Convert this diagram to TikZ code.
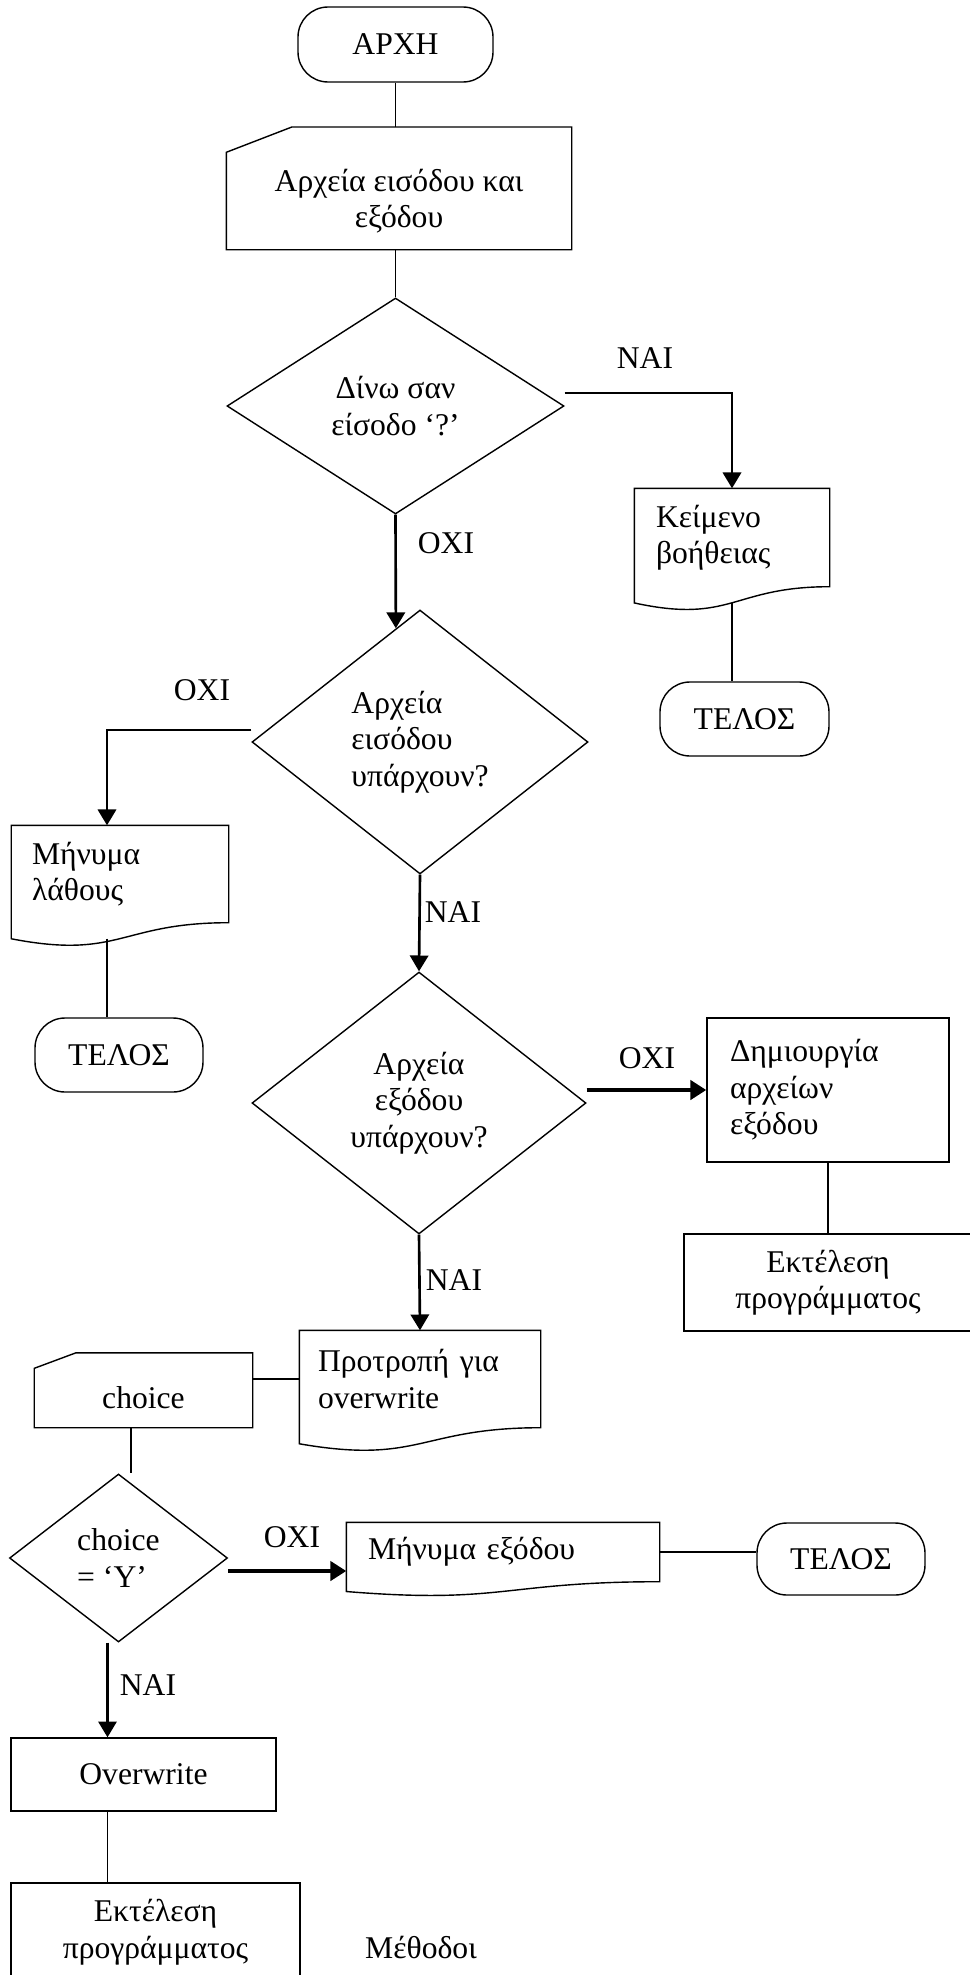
\documentclass[tikz,border=0pt]{standalone}
\usepackage{fontspec}
\setmainfont{Liberation Serif}
\usepackage{tikz}
\usetikzlibrary{shapes.geometric,arrows.meta,calc}

\begin{document}
\begin{tikzpicture}[x=1mm,y=1mm,line width=0.4pt,font=\fontsize{9}{10.4}\selectfont,
  term/.style={draw,rectangle,rounded corners=0.3cm,minimum height=0.74cm},
  proc/.style={draw,rectangle},
  cond/.style={draw,diamond,align=center},
  doc/.style={rectangle,align=left,minimum height=0.96cm},
  minput/.style={rectangle,align=center},
  yesno/.style={anchor=base},
  arr/.style={-{Triangle[length=4.5pt,width=5.2pt]},line width=0.75pt},
  bigarr/.style={-{Triangle[length=4.5pt,width=5.4pt]},line width=1.3pt}]
\tikzstyle{every node}+=[inner sep=0pt]
\useasboundingbox (0,0) rectangle (96.9,-197.5);
\node[term,minimum width=1.95cm,minimum height=0.75cm] (start) at (39.55,-4.45) {ΑΡΧΗ};
\node[minput,minimum width=3.44cm,minimum height=0.96cm] (input) at (39.9,-20.1) {Αρχεία εισόδου και\\εξόδου};
\node[cond,aspect=1.56,minimum width=3.37cm,minimum height=2.16cm] (ask) at (39.55,-40.6) {Δίνω σαν\\είσοδο ‘?’};
\node[doc,minimum width=1.94cm,minimum height=0.97cm,text width=1.52cm] (help) at (73.2,-53.75) {Κείμενο\\βοήθειας};
\node[term,minimum width=1.69cm] (end1) at (74.45,-71.9) {ΤΕΛΟΣ};
\node[cond,aspect=1.27,minimum width=3.36cm,minimum height=2.64cm,align=left] (inexist) at (42.0,-74.2) {Αρχεία\\εισόδου\\υπάρχουν?};
\node[doc,minimum width=2.16cm,text width=1.76cm] (errmsg) at (12.0,-87.4) {Μήνυμα\\λάθους};
\node[term,minimum width=1.68cm] (end2) at (11.9,-105.5) {ΤΕΛΟΣ};
\node[cond,aspect=1.27,minimum width=3.34cm,minimum height=2.62cm] (outexist) at (41.9,-110.3) {Αρχεία\\εξόδου\\υπάρχουν?};
\node[proc,minimum width=2.42cm,minimum height=1.44cm,text width=1.96cm,align=left] (mkout) at (82.8,-109.0) {Δημιουργία\\αρχείων\\εξόδου};
\node[proc,minimum width=2.88cm,minimum height=0.97cm,align=center] (run1) at (82.8,-128.25) {Εκτέλεση\\προγράμματος};
\node[doc,minimum width=2.40cm,text width=2.04cm] (prompt) at (42.0,-137.9) {Προτροπή για\\overwrite};
\node[minput,minimum width=2.17cm,minimum height=0.58cm] (choice) at (14.35,-139.8) {choice};
\node[cond,aspect=1.3,minimum width=2.18cm,minimum height=1.68cm,align=left] (check) at (11.85,-155.8) {choice\\= ‘Y’};
\node[doc,minimum width=3.12cm,minimum height=0.58cm,text width=2.70cm] (exitmsg) at (50.3,-155.2) {Μήνυμα εξόδου};
\node[term,minimum width=1.68cm,minimum height=0.72cm] (end3) at (84.1,-155.9) {ΤΕΛΟΣ};
\node[proc,minimum width=2.65cm,minimum height=0.73cm] (ovw) at (14.35,-177.45) {Overwrite};
\node[proc,minimum width=2.89cm,minimum height=0.98cm,align=center] (run2) at (15.55,-193.2) {Εκτέλεση\\προγράμματος};
\node[anchor=base] (methods) at (42.1,-195.8) {Μέθοδοι};
\node[yesno] (yes1) at (64.5,-36.8) {ΝΑΙ};
\node[yesno] (no1) at (44.6,-55.3) {ΟΧΙ};
\node[yesno] (no2) at (20.2,-70.0) {ΟΧΙ};
\node[yesno] (yes2) at (45.3,-92.2) {ΝΑΙ};
\node[yesno] (no3) at (64.7,-106.8) {ΟΧΙ};
\node[yesno] (yes3) at (45.4,-129.0) {ΝΑΙ};
\node[yesno] (no4) at (29.2,-154.7) {ΟΧΙ};
\node[yesno] (yes4) at (14.8,-169.5) {ΝΑΙ};
\foreach \n in {input,choice} {
  \coordinate (\n-t) at ($(\n.north west)!-0.26!(\n.south west)$);
  \coordinate (\n-s) at ($(\n.north west)!0.19!(\n.north east)$);
  \draw (\n.north west) -- (\n-s |- \n-t) -- (\n.north east |- \n-t) -- (\n.south east) -- (\n.south west) -- cycle;
}
\foreach \n in {help,errmsg,prompt,exitmsg} {
  \coordinate (\n-b) at ($(\n.south)!-0.163!(\n.north)$);
  \draw (\n.north west) -- (\n.north east) -- (\n.south east)
    .. controls (\n.south) and ($(\n.south)!-0.381!(\n.north)$) .. ($(\n.south west)!-0.165!(\n.north west)$) -- cycle;
}
\draw (start.south) -- (start.south |- input-t);
\draw (ask.north |- input.south) -- (ask.north);
\draw[arr] ([yshift=1.3mm]ask.east) -| (help.north);
\draw[arr] (ask.south) -- ($(inexist.north)!0.143!(inexist.west)$);
\draw[arr] ([yshift=1.2mm]inexist.west) -| ([xshift=-1.3mm]errmsg.north);
\draw (help-b) -- (help-b |- end1.north);
\draw ([xshift=-1.3mm]errmsg-b) -- ([xshift=-1.3mm]errmsg-b |- end2.north);
\draw[arr] (inexist.south) -- (outexist.north);
\draw[bigarr] (outexist.east |- mkout.west) -- (mkout.west);
\draw (mkout.south) -- (run1.north);
\draw[arr] (outexist.south) -- (prompt.north);
\draw (prompt.west) -- (choice.east |- prompt.west);
\draw ([xshift=-1.25mm]choice.south) -- ([xshift=-1.25mm]choice.south |- check.north);
\draw[bigarr] ([yshift=-1.3mm]check.east) -- ([yshift=-1.3mm]check.east -| exitmsg.west);
\draw (exitmsg.east) -- (exitmsg.east -| end3.west);
\draw[arr] ([xshift=-1.1mm]check.south) -- ([xshift=-1.1mm]check.south |- ovw.north);
\draw ([xshift=-1.1mm]check.south |- ovw.south) -- ([xshift=-1.1mm]check.south |- run2.north);
\end{tikzpicture}
\end{document}
